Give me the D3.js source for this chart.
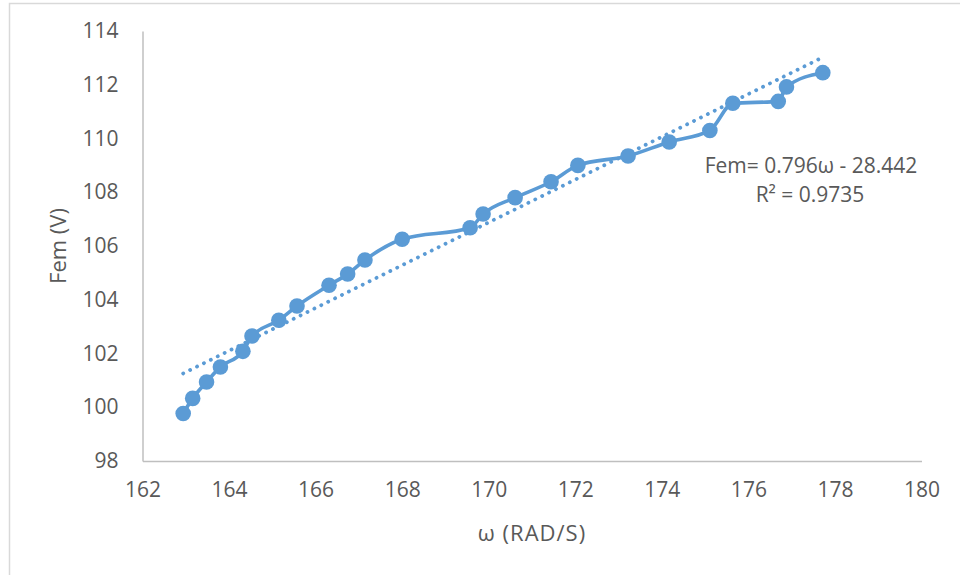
<!DOCTYPE html>
<html>
<head>
<meta charset="utf-8">
<script src="https://cdn.jsdelivr.net/npm/d3@7"></script>
<style>
  html, body { margin: 0; padding: 0; background: #fff; }
  svg { display: block; }
  text { font-family: "Open Sans", "Noto Sans", sans-serif; fill: #595959; }
</style>
</head>
<body>
<svg id="chart" width="960" height="575"></svg>
<script>
// Measured speed (rad/s) and induced EMF (V)
const omega = [162.94, 163.16, 163.48, 163.80, 164.32, 164.53, 165.15, 165.57, 166.31, 166.74, 167.14, 168.00,
               169.57, 169.87, 170.61, 171.44, 172.06, 173.22, 174.17, 175.11, 175.64, 176.69, 176.88, 177.72];
const fem   = [99.77, 100.33, 100.94, 101.50, 102.08, 102.65, 103.24, 103.77, 104.54, 104.96, 105.48, 106.25,
               106.68, 107.19, 107.80, 108.39, 109.00, 109.35, 109.87, 110.30, 111.31, 111.38, 111.92, 112.45];

// Linear trend: Fem = 0.796ω - 28.442, R² = 0.9735
const trendSlope = 0.796;
const trendIntercept = -28.442;
const trendLabel = ["Fem= 0.796ω - 28.442", "R² = 0.9735"];

const xTicks = [162, 164, 166, 168, 170, 172, 174, 176, 178, 180];
const yTicks = [98, 100, 102, 104, 106, 108, 110, 112, 114];
const xTitle = "ω (RAD/S)";
const yTitle = "Fem (V)";

const blue = "#5B9BD5";
const grey = "#595959";
const axisGrey = "#BFBFBF";

const svg = d3.select("#chart");

// Outer chart frame
svg.append("rect")
  .attr("x", 9.5).attr("y", 3.5)
  .attr("width", 980).attr("height", 600)
  .attr("fill", "none").attr("stroke", "#D9D9D9").attr("stroke-width", 1.5);

const x = d3.scaleLinear().domain([162, 180]).range([142.5, 921.5]);
const y = d3.scaleLinear().domain([98, 114]).range([461, 31]);

// Axes
const xAxis = svg.append("g").attr("transform", `translate(0,${y(98)})`)
  .call(d3.axisBottom(x).tickValues(xTicks).tickSize(0).tickPadding(21).tickFormat(d3.format("d")));
const yAxis = svg.append("g").attr("transform", `translate(${x(162)},0)`)
  .call(d3.axisLeft(y).tickValues(yTicks).tickSize(0).tickPadding(24).tickFormat(d3.format("d")));

[xAxis, yAxis].forEach(g => {
  g.select(".domain").attr("stroke", axisGrey).attr("stroke-width", 1.5);
  g.selectAll("text").attr("font-size", 21).attr("fill", grey)
    .attr("font-family", "'Open Sans', 'Noto Sans', sans-serif");
});

// Axis titles
svg.append("text")
  .attr("x", (x(162) + x(180)) / 2).attr("y", 541)
  .attr("text-anchor", "middle").attr("font-size", 22)
  .attr("letter-spacing", 1)
  .text(xTitle);

svg.append("text")
  .attr("transform", `translate(66,${(y(98) + y(114)) / 2}) rotate(-90)`)
  .attr("text-anchor", "middle").attr("font-size", 22)
  .text(yTitle);

const pts = omega.map((w, i) => [w, fem[i]]);

// Trendline (dotted)
const xMin = d3.min(omega), xMax = d3.max(omega);
svg.append("line")
  .attr("x1", x(xMin)).attr("y1", y(trendSlope * xMin + trendIntercept))
  .attr("x2", x(xMax)).attr("y2", y(trendSlope * xMax + trendIntercept))
  .attr("stroke", blue).attr("stroke-width", 3.8)
  .attr("stroke-linecap", "round").attr("stroke-dasharray", "0.1 7.6");

// Data series line
const line = d3.line().x(d => x(d[0])).y(d => y(d[1])).curve(d3.curveMonotoneX);
svg.append("path")
  .datum(pts)
  .attr("d", line)
  .attr("fill", "none").attr("stroke", blue).attr("stroke-width", 3.6)
  .attr("stroke-linejoin", "round").attr("stroke-linecap", "round");

// Markers
svg.append("g").selectAll("circle")
  .data(pts).join("circle")
  .attr("cx", d => x(d[0])).attr("cy", d => y(d[1]))
  .attr("r", 7.8).attr("fill", blue);

// Trendline equation
const eq = svg.append("text").attr("text-anchor", "middle").attr("font-size", 21);
eq.append("tspan").attr("x", 811).attr("y", 173).text(trendLabel[0]);
eq.append("tspan").attr("x", 810).attr("y", 202).text(trendLabel[1]);
</script>
</body>
</html>
